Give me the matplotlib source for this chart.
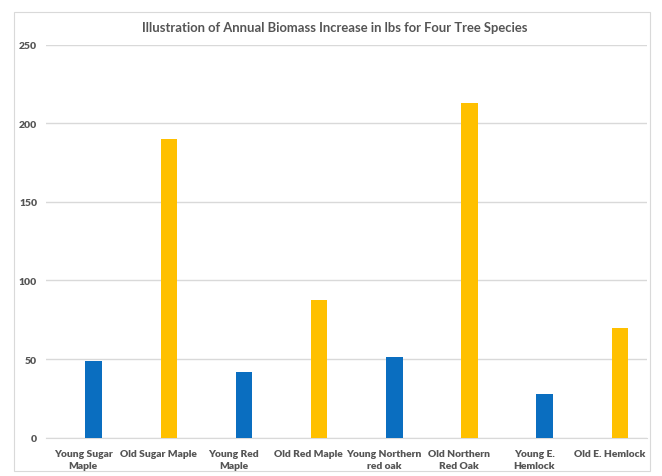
import matplotlib
matplotlib.use("Agg")
import matplotlib.pyplot as plt
import numpy as np
from matplotlib.patches import Rectangle

categories = ["Young Sugar\nMaple", "Old Sugar Maple", "Young Red\nMaple", "Old Red Maple",
              "Young Northern\nred oak", "Old Northern\nRed Oak", "Young E.\nHemlock", "Old E. Hemlock"]
values = [49, 190, 41.5, 87.5, 51, 213, 28, 69.5]
bar_colors = ["#0A6EC0", "#FFC000", "#0A6EC0", "#FFC000", "#0A6EC0", "#FFC000", "#0A6EC0", "#FFC000"]
yticks = [0, 50, 100, 150, 200, 250]
title = "Illustration of Annual Biomass Increase in lbs for Four Tree Species"

W, H = 662, 477
fig = plt.figure(figsize=(W / 100, H / 100), dpi=100)
fig.patch.set_facecolor("white")

# chart-area border
fig.patches.append(Rectangle((14 / W, 1 - 472 / H), (650 - 14) / W, (472 - 13) / H,
                             transform=fig.transFigure, fill=False, edgecolor="#d9d9d9", lw=0.8))

left, right, top, bottom = 45.5, 647, 45.5, 438.7
ax = fig.add_axes([left / W, 1 - bottom / H, (right - left) / W, (bottom - top) / H])

font = "Lato"
txt = "#555555"
x = np.arange(len(categories))
ax.bar(x + 0.14, values, width=0.22, color=bar_colors, zorder=3)
ax.set_xlim(-0.5, len(categories) - 0.5)
ax.set_ylim(0, 250)
ax.set_yticks(yticks)
ax.set_yticklabels([str(v) for v in yticks], fontfamily=font, fontweight="heavy", fontsize=7.5, color=txt)
ax.set_xticks(x)
ax.set_xticklabels(categories, fontfamily=font, fontweight="heavy", fontsize=7.4, color=txt, linespacing=1.5)
ax.tick_params(axis="both", length=0)
ax.tick_params(axis="y", pad=6)
ax.tick_params(axis="x", pad=8)
ax.grid(axis="y", color="#d9d9d9", lw=1, zorder=0)
for s in ["top", "right", "left"]:
    ax.spines[s].set_visible(False)
ax.spines["bottom"].set_color("#d9d9d9")

fig.text(335 / W, 1 - 28 / H, title, ha="center", va="center", fontfamily=font,
         fontweight="bold", fontsize=9.4, color=txt)

fig.savefig("out.png", dpi=100)
